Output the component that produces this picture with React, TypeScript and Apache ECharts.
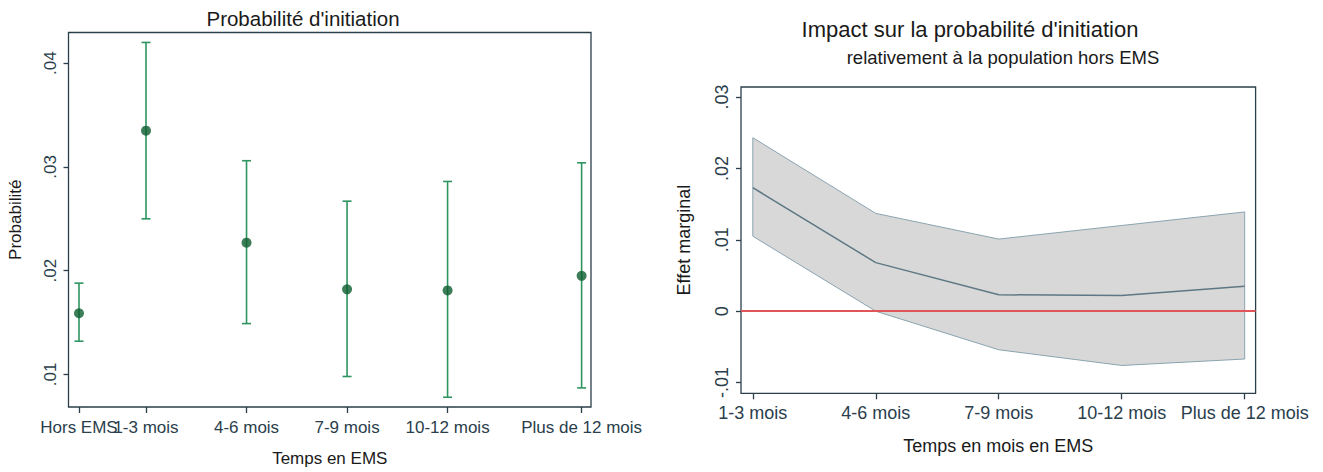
import React, { useEffect, useRef } from "react";
import * as echarts from "echarts";

// ---- Left panel data: probability of initiation ----
const leftCategories = ["Hors EMS", "1-3 mois", "4-6 mois", "7-9 mois", "10-12 mois", "Plus de 12 mois"];
const leftX = [0, 2, 5, 8, 11, 15];
const leftPoint = [0.0159, 0.0335, 0.0227, 0.0182, 0.0181, 0.0195];
const leftLower = [0.0132, 0.0250, 0.0149, 0.0098, 0.0078, 0.0087];
const leftUpper = [0.0188, 0.0420, 0.0306, 0.0267, 0.0286, 0.0304];
const leftYTicks = [0.01, 0.02, 0.03, 0.04];

// ---- Right panel data: marginal effect ----
const rightCategories = ["1-3 mois", "4-6 mois", "7-9 mois", "10-12 mois", "Plus de 12 mois"];
const rightX = [1, 2, 3, 4, 5];
const rightMid = [0.0173, 0.0068, 0.0023, 0.0022, 0.0035];
const rightUpper = [0.0243, 0.0137, 0.0101, 0.0120, 0.0139];
const rightLower = [0.0105, 0.0000, -0.0054, -0.0076, -0.0067];
const rightYTicks = [-0.01, 0, 0.01, 0.02, 0.03];

const FONT = "'Liberation Sans', Arial, sans-serif";
const FRAME = "#2b3f4a";
const LABEL = "#2a3e4c";
const TEXT = "#1a1a1a";

const fmt = (v: number) => {
  if (Math.abs(v) < 1e-9) return "0";
  return (v < 0 ? "-" : "") + Math.abs(v).toFixed(2).replace(/^0/, "");
};

export default function App() {
  const ref = useRef<HTMLDivElement>(null);
  useEffect(() => {
    if (!ref.current) return;
    const chart = echarts.init(ref.current, null, { renderer: "svg" });
    const barColor = "#2e9560";
    const ptColor = "#0d5c2e";
    const L = 17; // left panel font size
    const R = 18; // right panel font size
    const leftLabel = (v: number) => leftCategories[leftX.indexOf(v)] ?? "";

    const leftXBase = (customValues: number[], withName: boolean): any => ({
      type: "value", gridIndex: 0, min: -0.313, max: 15.28, position: "bottom", offset: 0,
      name: withName ? "Temps en EMS" : "", nameLocation: "middle", nameGap: 43,
      nameTextStyle: { fontFamily: FONT, fontSize: L, color: TEXT },
      axisLine: { show: false, onZero: false },
      splitLine: { show: false },
      axisTick: { show: true, length: 6, customValues, lineStyle: { color: FRAME, width: 1.3 } },
      axisLabel: {
        customValues, margin: 12, hideOverlap: false,
        showMinLabel: true, showMaxLabel: true,
        fontFamily: FONT, fontSize: L, color: LABEL,
        formatter: leftLabel,
      },
    });

    const option: any = {
      animation: false,
      backgroundColor: "#ffffff",
      textStyle: { fontFamily: FONT },
      title: [
        {
          text: "Probabilité d'initiation",
          left: 298, top: 3, textAlign: "center",
          textStyle: { fontFamily: FONT, fontSize: 20.5, fontWeight: "normal", color: TEXT },
        },
        {
          text: "Impact sur la probabilité d'initiation",
          left: 965, top: 13, textAlign: "center",
          textStyle: { fontFamily: FONT, fontSize: 22, fontWeight: "normal", color: TEXT },
        },
        {
          text: "relativement à la population hors EMS",
          left: 998, top: 43, textAlign: "center",
          textStyle: { fontFamily: FONT, fontSize: 18.5, fontWeight: "normal", color: TEXT },
        },
      ],
      grid: [
        { left: 68.5, top: 32.5, width: 522.5, height: 375.5, show: true, borderColor: FRAME, borderWidth: 1.3, backgroundColor: "#ffffff" },
        { left: 741, top: 87, width: 514.6, height: 306.3, show: true, borderColor: FRAME, borderWidth: 1.3, backgroundColor: "#ffffff" },
      ],
      xAxis: [
        leftXBase(leftX.slice(1), true),
        {
          type: "value", gridIndex: 1, min: 0.904, max: 5.089,
          name: "Temps en mois en EMS", nameLocation: "middle", nameGap: 44,
          nameTextStyle: { fontFamily: FONT, fontSize: R, color: TEXT },
          axisLine: { show: false, onZero: false },
          splitLine: { show: false },
          axisTick: { show: true, length: 6, customValues: rightX, lineStyle: { color: FRAME, width: 1.3 } },
          axisLabel: {
            customValues: rightX, margin: 11, hideOverlap: false,
            showMinLabel: true, showMaxLabel: true,
            fontFamily: FONT, fontSize: R, color: LABEL,
            formatter: (v: number) => rightCategories[rightX.indexOf(v)] ?? "",
          },
        },
        leftXBase(leftX.slice(0, 1), false),
      ],
      yAxis: [
        {
          type: "value", gridIndex: 0, min: 0.00686, max: 0.04296,
          name: "Probabilité", nameLocation: "middle", nameGap: 45,
          nameTextStyle: { fontFamily: FONT, fontSize: L, color: TEXT },
          axisLine: { show: false, onZero: false },
          splitLine: { show: false },
          axisTick: { show: true, length: 5, customValues: leftYTicks, lineStyle: { color: FRAME, width: 1.3 } },
          axisLabel: {
            customValues: leftYTicks, rotate: 90, margin: 10,
            showMinLabel: true, showMaxLabel: true,
            fontFamily: FONT, fontSize: L, color: LABEL, formatter: fmt,
          },
        },
        {
          type: "value", gridIndex: 1, min: -0.0115, max: 0.0314,
          name: "Effet marginal", nameLocation: "middle", nameGap: 48,
          nameTextStyle: { fontFamily: FONT, fontSize: R, color: TEXT },
          axisLine: { show: false, onZero: false },
          splitLine: { show: false },
          axisTick: { show: true, length: 5, customValues: rightYTicks, lineStyle: { color: FRAME, width: 1.3 } },
          axisLabel: {
            customValues: rightYTicks, rotate: 90, margin: 10,
            showMinLabel: true, showMaxLabel: true,
            fontFamily: FONT, fontSize: R, color: LABEL, formatter: fmt,
          },
        },
      ],
      series: [
        {
          type: "custom", xAxisIndex: 0, yAxisIndex: 0,
          data: leftX.map((x, i) => [x, leftLower[i], leftUpper[i]]),
          encode: { x: 0, y: [1, 2] },
          renderItem: (params: any, api: any) => {
            const x = api.value(0);
            const top = api.coord([x, api.value(2)]);
            const bot = api.coord([x, api.value(1)]);
            const hw = 4.5;
            const style = { stroke: barColor, lineWidth: 1.6 };
            return {
              type: "group",
              children: [
                { type: "line", shape: { x1: top[0], y1: top[1], x2: bot[0], y2: bot[1] }, style },
                { type: "line", shape: { x1: top[0] - hw, y1: top[1], x2: top[0] + hw, y2: top[1] }, style },
                { type: "line", shape: { x1: bot[0] - hw, y1: bot[1], x2: bot[0] + hw, y2: bot[1] }, style },
              ],
            };
          },
          z: 2,
        },
        {
          type: "scatter", xAxisIndex: 0, yAxisIndex: 0,
          data: leftX.map((x, i) => [x, leftPoint[i]]),
          symbol: "circle", symbolSize: 10,
          itemStyle: { color: ptColor },
          z: 3,
        },
        {
          type: "custom", xAxisIndex: 1, yAxisIndex: 1,
          data: rightX.map((x, i) => [x, rightLower[i], rightUpper[i]]),
          encode: { x: 0, y: [1, 2] },
          renderItem: (params: any, api: any) => {
            if (params.dataIndex !== 0) return null;
            const pts: number[][] = [];
            rightX.forEach((x, i) => pts.push(api.coord([x, rightUpper[i]])));
            for (let i = rightX.length - 1; i >= 0; i--) pts.push(api.coord([rightX[i], rightLower[i]]));
            return {
              type: "polygon",
              shape: { points: pts },
              style: { fill: "#d9d8d8", stroke: "#8aa4b0", lineWidth: 1 },
            };
          },
          z: 1,
        },
        {
          type: "line", xAxisIndex: 1, yAxisIndex: 1,
          data: rightX.map((x, i) => [x, rightMid[i]]),
          symbol: "none",
          lineStyle: { color: "#5d7884", width: 1.5 },
          z: 3,
          markLine: {
            silent: true, symbol: "none",
            label: { show: false },
            lineStyle: { color: "#e0545a", width: 2, type: "solid" },
            data: [{ yAxis: 0 }],
          },
        },
      ],
    };
    chart.setOption(option);
    return () => chart.dispose();
  }, []);
  return <div ref={ref} style={{ position: "absolute", left: 0, top: 0, width: 1323, height: 472 }} />;
}
